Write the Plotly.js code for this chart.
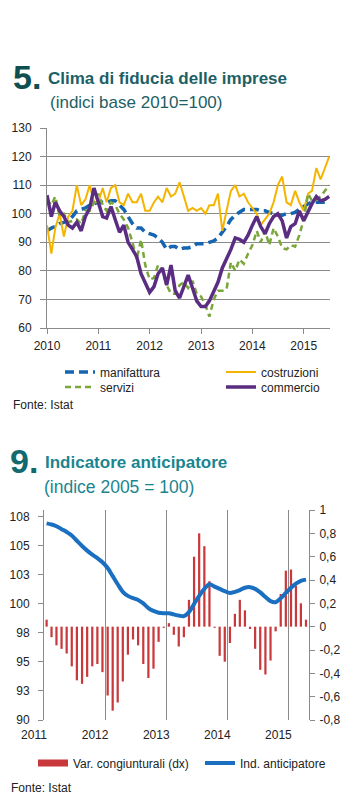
<!DOCTYPE html>
<html><head><meta charset="utf-8">
<script src="https://cdn.plot.ly/plotly-3.0.1.min.js"></script>
<style>html,body{margin:0;padding:0;background:#fff}#chart{width:350px;height:805px}</style>
</head><body><div id="chart"></div>
<script>
// ---------- Chart 5: Clima di fiducia delle imprese (monthly, Jan 2010 - Jul 2015)
const c1Start = {year: 2010, month: 1};
const c1Count = 67;
const manifattura = [94,95,95.5,96.5,97,97.5,99,101,101.5,102,103,103.5,104,104,104,104.5,104.5,103,101.5,99,96.5,95,95,93.5,93,92.5,91.5,90,87.5,88.5,88.5,87.5,88,88,88.5,89.5,89.5,89.5,90,90.5,91.5,93.5,95.5,98,99.5,100.5,101.5,101.5,101.5,101.5,101,101,100.5,100,99.5,99.5,100,100,100.5,101.5,102.5,103.5,104,104,104,104,104.5];
const costruzioni = [96,86,95,100,92,99,101,110,103,105,110,104,104,109,104,109,110,104,103,107,104,104,107,101,101,104,106,104,109,106,107,111,106,101,102,101,102,100,103,103,107,94,101,108,110,106,107,104,102,100,96,98,100,104,110,113,104,103,108,104,101,107,108,116,112,116,120];
const servizi = [105,103,106,99,100,97,97.5,98,96.5,101,101,104,107,103,101,104,103,100,98,95,90,84,91,82,77,77.5,82,80,75,72,72,75,76,74,76.5,72,71,68,64,70,73,73,73.5,83,80,84,82.5,86,89,94,90,94,89,95,92,88,87.5,89,88.5,92.5,98,107,104.5,105,106,108,110];
const commercio = [106.5,99,104,101,99,96,95,97,94,99,102,109,104,99,98.5,102.5,98,93.5,96,90,87.5,85,79,75.5,72.5,74.5,79,81,75,82,73,70.5,75,78.5,74,69.5,67.5,67.5,69.5,73,76,81,84,87.5,91.5,91,90,92.5,96,99,95.5,93,96.5,99,100,97.5,91.5,95.5,96.5,101,97.5,101,103.5,106,104.5,105,106];
const c1Names = ['manifattura','costruzioni','servizi','commercio'];
const c1YearTicks = ['2010','2011','2012','2013','2014','2015'];

// ---------- Chart 9: Indicatore anticipatore (monthly, Jan 2011 - Apr 2015)
const c2Start = {year: 2011, month: 1};
const c2Count = 52;
const varCongiunturali = [0.06,-0.09,-0.16,-0.19,-0.23,-0.34,-0.46,-0.49,-0.43,-0.34,-0.32,-0.39,-0.59,-0.72,-0.65,-0.47,-0.24,-0.11,-0.16,-0.32,-0.44,-0.36,-0.13,-0.01,0.03,-0.07,-0.17,-0.09,0.23,0.60,0.80,0.69,0.39,-0.01,-0.25,-0.30,-0.14,0.11,0.23,0.14,-0.02,-0.19,-0.37,-0.41,-0.29,-0.04,0.28,0.48,0.49,0.35,0.20,0.06];
const indAnticipatore = [106.95,106.85,106.7,106.45,106.2,105.9,105.45,105.0,104.6,104.25,103.95,103.6,103.1,102.4,101.7,101.05,100.7,100.5,100.35,100.05,99.65,99.4,99.25,99.2,99.2,99.1,99.0,98.95,99.3,100.0,100.7,101.3,101.7,101.5,101.3,101.1,100.95,101.05,101.2,101.4,101.45,101.3,101.0,100.6,100.25,100.15,100.5,100.95,101.4,101.75,102.0,102.1];
const c2Names = ['Var. congiunturali (dx)','Ind. anticipatore'];
const c2YearTicks = ['2011','2012','2013','2014','2015'];
const c2LeftTickVals = [90,92.5,95,97.5,100,102.5,105,107.5];
const c2LeftTickText = ['90','93','95','98','100','103','105','108'];
const c2RightTickVals = [-0.8,-0.6,-0.4,-0.2,0,0.2,0.4,0.6,0.8,1];
const c2RightTickText = ['-0,8','-0,6','-0,4','-0,2','0','0,2','0,4','0,6','0,8','1'];

function monthList(start, n, day) {
  const out = [];
  for (let i = 0; i < n; i++) {
    const k = start.month - 1 + i;
    const y = start.year + Math.floor(k / 12);
    const m = (k % 12) + 1;
    out.push(y + '-' + String(m).padStart(2, '0') + '-' + day);
  }
  return out;
}
const c1Dates = monthList(c1Start, c1Count, '01');
const c2Dates = monthList(c2Start, c2Count, '01');

const W = 350, H = 805;
const px = v => v / W;
const py = v => 1 - v / H;
const FONT = "'Liberation Sans',Arial,sans-serif";
const TXT = '#222';
const GRID = '#8a8a8a';
const RED = '#c9383a';

const traces = [
  {x: c1Dates, y: manifattura, name: c1Names[0], type: 'scatter', mode: 'lines', xaxis: 'x', yaxis: 'y',
   line: {color: '#1565b0', width: 3.5, dash: '9px,5px'}, legend: 'legend'},
  {x: c1Dates, y: costruzioni, name: c1Names[1], type: 'scatter', mode: 'lines', xaxis: 'x', yaxis: 'y',
   line: {color: '#f4b400', width: 2}, legend: 'legend2'},
  {x: c1Dates, y: servizi, name: c1Names[2], type: 'scatter', mode: 'lines', xaxis: 'x', yaxis: 'y',
   line: {color: '#7aa63a', width: 2.5, dash: '6px,4px'}, legend: 'legend3'},
  {x: c1Dates, y: commercio, name: c1Names[3], type: 'scatter', mode: 'lines', xaxis: 'x', yaxis: 'y',
   line: {color: '#5a2d82', width: 3.5}, legend: 'legend4'},
  {x: c2Dates, y: varCongiunturali, name: c2Names[0], type: 'bar', xaxis: 'x2', yaxis: 'y2',
   xperiod: 'M1', xperiodalignment: 'middle', width: 1.15e9,
   marker: {color: RED, line: {width: 0}}, showlegend: false},
  {x: [null], y: [null], name: c2Names[0], type: 'scatter', mode: 'lines', xaxis: 'x2', yaxis: 'y2',
   line: {color: RED, width: 7}, legend: 'legend5', hoverinfo: 'skip'},
  {x: c2Dates, y: indAnticipatore, name: c2Names[1], type: 'scatter', mode: 'lines', xaxis: 'x2', yaxis: 'y3',
   xperiod: 'M1', xperiodalignment: 'middle',
   line: {color: '#1a6fc0', width: 4, shape: 'spline', smoothing: 1}, legend: 'legend6'}
];

const tickFont = {family: FONT, size: 12, color: TXT};
function leg(xPx, yPx) {
  return {orientation: 'h', x: px(xPx), xanchor: 'left', y: py(yPx), yanchor: 'middle',
    font: {family: FONT, size: 12, color: TXT}, bgcolor: 'rgba(0,0,0,0)', borderwidth: 0};
}

const layout = {
  width: W, height: H,
  margin: {l: 0, r: 0, t: 0, b: 0},
  paper_bgcolor: '#fff', plot_bgcolor: 'rgba(0,0,0,0)',
  separators: ',.',
  font: {family: FONT, size: 12, color: TXT},
  xaxis: {
    domain: [px(47), px(330)], anchor: 'y', type: 'date',
    range: ['2010-01-01', '2015-07-07'],
    tickvals: c1YearTicks.map(y => y + '-01-01'), ticktext: c1YearTicks,
    showgrid: false, zeroline: false,
    showline: true, linecolor: GRID, linewidth: 1,
    ticks: 'outside', ticklen: 5, tickcolor: GRID, tickfont: tickFont,
    ticklabelstandoff: 2
  },
  yaxis: {
    domain: [py(328), py(128)], anchor: 'x',
    range: [60, 130], dtick: 10, tick0: 60,
    showgrid: true, gridcolor: GRID, gridwidth: 1, zeroline: false,
    showline: true, linecolor: GRID, linewidth: 1,
    ticks: 'outside', ticklen: 6, tickcolor: GRID, tickfont: tickFont,
    ticklabelstandoff: 6
  },
  xaxis2: {
    domain: [px(44), px(309)], anchor: 'y2', type: 'date',
    range: ['2011-01-01', '2015-05-04'],
    tickvals: c2YearTicks.map(y => y + '-01-01'), ticktext: c2YearTicks,
    ticklabelshift: -10, ticklabelstandoff: 6,
    showgrid: true, gridcolor: GRID, gridwidth: 1, zeroline: false,
    showline: false, ticks: '', tickfont: tickFont
  },
  yaxis2: {
    domain: [py(720), py(510)], anchor: 'x2', side: 'right',
    range: [-0.8, 1.0], tickvals: c2RightTickVals, ticktext: c2RightTickText,
    showgrid: false, zeroline: false,
    showline: true, linecolor: GRID, linewidth: 1,
    ticks: 'outside', ticklen: 5, tickcolor: GRID, tickfont: tickFont,
    ticklabelstandoff: 2
  },
  yaxis3: {
    overlaying: 'y2', anchor: 'x2', side: 'left',
    range: [90, 108.1], tickvals: c2LeftTickVals, ticktext: c2LeftTickText,
    showgrid: false, zeroline: false,
    showline: true, linecolor: GRID, linewidth: 1,
    ticks: 'outside', ticklen: 5, tickcolor: GRID, tickfont: tickFont,
    ticklabelstandoff: 6
  },
  legend: leg(60, 372),
  legend2: leg(221, 372),
  legend3: leg(60, 387),
  legend4: leg(221, 387),
  legend5: leg(33, 763),
  legend6: leg(200, 763),
  annotations: [
    {text: '<b>5.</b>', x: px(11), y: py(77), xref: 'paper', yref: 'paper', xanchor: 'left', yanchor: 'middle', showarrow: false,
     font: {family: FONT, size: 34, color: '#0f4f52'}},
    {text: '<b>Clima di fiducia delle imprese</b>', x: px(46), y: py(78), xref: 'paper', yref: 'paper', xanchor: 'left', yanchor: 'middle', showarrow: false,
     font: {family: FONT, size: 17, color: '#1d5f66'}},
    {text: '(indici base 2010=100)', x: px(48), y: py(102), xref: 'paper', yref: 'paper', xanchor: 'left', yanchor: 'middle', showarrow: false,
     font: {family: FONT, size: 17, color: '#1d5f66'}},
    {text: 'Fonte: Istat', x: px(11), y: py(405), xref: 'paper', yref: 'paper', xanchor: 'left', yanchor: 'middle', showarrow: false,
     font: {family: FONT, size: 12, color: TXT}},
    {text: '<b>9.</b>', x: px(8), y: py(461), xref: 'paper', yref: 'paper', xanchor: 'left', yanchor: 'middle', showarrow: false,
     font: {family: FONT, size: 34, color: '#126a70'}},
    {text: '<b>Indicatore anticipatore</b>', x: px(43), y: py(462), xref: 'paper', yref: 'paper', xanchor: 'left', yanchor: 'middle', showarrow: false,
     font: {family: FONT, size: 17, color: '#1a8590'}},
    {text: '(indice 2005 = 100)', x: px(42), y: py(487), xref: 'paper', yref: 'paper', xanchor: 'left', yanchor: 'middle', showarrow: false,
     font: {family: FONT, size: 17.5, color: '#1a8590'}},
    {text: 'Fonte: Istat', x: px(9), y: py(788), xref: 'paper', yref: 'paper', xanchor: 'left', yanchor: 'middle', showarrow: false,
     font: {family: FONT, size: 12, color: TXT}}
  ]
};

Plotly.newPlot('chart', traces, layout, {displayModeBar: false, staticPlot: true});
</script>
</body></html>
